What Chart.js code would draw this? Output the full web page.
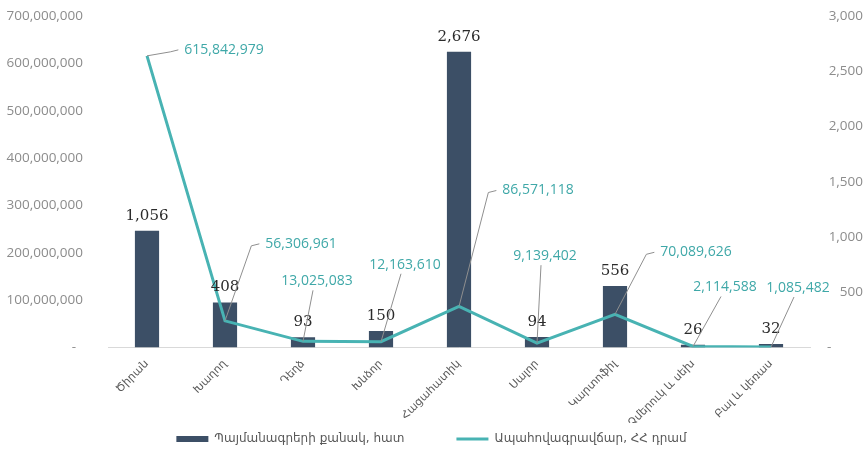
<!DOCTYPE html>
<html lang="hy">
<head>
<meta charset="UTF-8">
<title>Պայմանագրեր և ապահովագրավճար</title>
<script src="https://cdn.jsdelivr.net/npm/chart.js"></script>
<style>
  html, body { margin: 0; padding: 0; background: #fff; }
  #wrap { width: 867px; height: 455px; }
</style>
</head>
<body>
<div id="wrap"><canvas id="insChart"></canvas></div>
<script>
const crops = ['Ծիրան', 'Խաղող', 'Դեղձ', 'Խնձոր', 'Հացահատիկ', 'Սալոր', 'Կարտոֆիլ', 'Ձմերուկ և սեխ', 'Բալ և կեռաս'];
const contracts = [1056, 408, 93, 150, 2676, 94, 556, 26, 32];
const premiums = [615842979, 56306961, 13025083, 12163610, 86571118, 9139402, 70089626, 2114588, 1085482];
const contractsLabel = 'Պայմանագրերի քանակ, հատ';
const premiumsLabel = 'Ապահովագրավճար, ՀՀ դրամ';

// where each premium label sits relative to its point, and how the leader attaches
const premiumLabelPos = [
  [77, -6, 'left'], [76, -77, 'left'], [14, -60, 'below'], [24, -77, 'below'], [79, -116, 'left'],
  [8, -87, 'below'], [81, -62, 'left'], [32, -59, 'below'], [27, -59, 'below']
];

const fmt = v => v.toLocaleString('en-US');
const tickFont = { family: 'Open Sans', size: 13.5 };

const valueLabels = {
  id: 'valueLabels',
  afterDatasetsDraw(chart) {
    const ctx = chart.ctx;
    const bars = chart.getDatasetMeta(0).data;
    const pts = chart.getDatasetMeta(1).data;
    ctx.save();
    ctx.textAlign = 'center';
    ctx.textBaseline = 'middle';

    ctx.font = '15px "DejaVu Serif"';
    ctx.fillStyle = '#2b2b2b';
    bars.forEach((b, i) => ctx.fillText(fmt(contracts[i]), b.x, b.y - 15));

    ctx.font = '14px "Open Sans"';
    pts.forEach((p, i) => {
      const [dx, dy, kind] = premiumLabelPos[i];
      const text = fmt(premiums[i]);
      const w = ctx.measureText(text).width;
      const cx = p.x + dx, cy = p.y + dy;
      ctx.strokeStyle = '#8f8f8f';
      ctx.lineWidth = 1;
      ctx.beginPath();
      ctx.moveTo(p.x, p.y);
      if (kind === 'left') {
        const lx = cx - w / 2;
        ctx.lineTo(lx - 14, cy + 2);
        ctx.lineTo(lx - 6, cy);
      } else {
        ctx.lineTo(cx - 4, cy + 9);
      }
      ctx.stroke();
      ctx.fillStyle = '#3fa8a8';
      ctx.fillText(text, cx, cy);
    });
    ctx.restore();
  }
};

// big tick padding would otherwise push the plot down from the top
const trimPadding = s => { s.paddingTop = 10; s.paddingBottom = 10; };

new Chart(document.getElementById('insChart'), {
  type: 'bar',
  data: {
    labels: crops,
    datasets: [{
      label: contractsLabel,
      data: contracts,
      yAxisID: 'y1',
      backgroundColor: '#3c4f66',
      categoryPercentage: 1,
      barPercentage: 0.31,
      order: 1
    }, {
      type: 'line',
      label: premiumsLabel,
      data: premiums,
      yAxisID: 'y',
      borderColor: '#48b3b3',
      backgroundColor: '#48b3b3',
      borderWidth: 3,
      pointRadius: 0,
      tension: 0,
      order: 0
    }]
  },
  options: {
    responsive: true,
    maintainAspectRatio: false,
    animation: false,
    layout: { padding: { top: 16, right: 4, bottom: 0, left: 0 } },
    plugins: {
      tooltip: { enabled: false },
      legend: {
        position: 'bottom',
        labels: {
          usePointStyle: true,
          pointStyleWidth: 32,
          boxHeight: 6,
          padding: 10,
          color: '#595959',
          font: { family: 'DejaVu Sans', size: 12 },
          sort: (a, b) => a.datasetIndex - b.datasetIndex,
          generateLabels(chart) {
            const items = Chart.defaults.plugins.legend.labels.generateLabels(chart);
            items.forEach(it => {
              const isLine = chart.data.datasets[it.datasetIndex].type === 'line';
              it.pointStyle = isLine ? 'line' : 'rect';
              // wider gap after the first entry without adding legend height
              if (!isLine) it.text += '\u00a0'.repeat(11);
            });
            return items;
          }
        }
      }
    },
    scales: {
      x: {
        grid: { display: false },
        border: { display: true, color: '#d9d9d9' },
        ticks: {
          autoSkip: false,
          maxRotation: 45,
          minRotation: 45,
          padding: 2,
          color: '#595959',
          font: { family: 'DejaVu Sans', size: 11 }
        },
        afterFit: s => { s.height = 75.5; }
      },
      y: {
        position: 'left',
        min: 0,
        max: 700000000,
        grid: { display: false, drawTicks: false },
        border: { display: false },
        ticks: {
          stepSize: 100000000,
          padding: 25,
          color: '#8c8c8c',
          font: tickFont,
          callback: v => v === 0 ? '-  ' : fmt(v)
        },
        afterFit: s => { s.width = 108; trimPadding(s); }
      },
      y1: {
        position: 'right',
        min: 0,
        max: 3000,
        grid: { display: false, drawTicks: false },
        border: { display: false },
        ticks: {
          stepSize: 500,
          crossAlign: 'far',
          color: '#8c8c8c',
          font: tickFont,
          callback: v => v === 0 ? '-' + ' '.repeat(9) : fmt(v)
        },
        afterFit: s => { s.width = 53; trimPadding(s); }
      }
    }
  },
  plugins: [valueLabels]
});
</script>
</body>
</html>
